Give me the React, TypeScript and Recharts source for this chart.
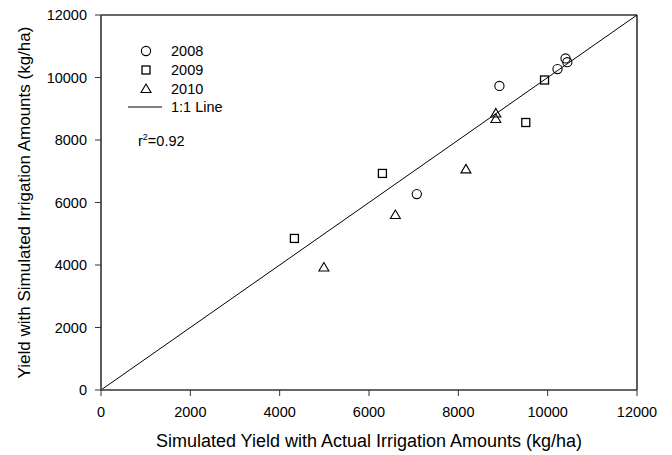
import React from 'react';
import {
  ScatterChart, Scatter, XAxis, YAxis, ReferenceLine, Label, Customized
} from 'recharts';

// measured (x) vs simulated (y) yield, kg/ha
const x2008 = [8920, 10220, 10400, 10440, 7070];
const y2008 = [9730, 10270, 10610, 10490, 6270];
const x2009 = [9930, 9510, 6300, 4330];
const y2009 = [9920, 8560, 6930, 4850];
const x2010 = [8840, 8840, 8170, 6590, 4990];
const y2010 = [8850, 8670, 7060, 5600, 3920];

const ticks = [0, 2000, 4000, 6000, 8000, 10000, 12000];
const legendLabels = ['2008', '2009', '2010', '1:1 Line'];
const r2Text = '0.92';

const FONT = 'Liberation Sans, Arial, sans-serif';

const toRows = (xs: number[], ys: number[]) => xs.map((x, i) => ({ x, y: ys[i] }));

const CircleShape = (props: any) => (
  <circle cx={props.cx} cy={props.cy} r={4.6} fill="none" stroke="#000" strokeWidth={1.1} />
);
const SquareShape = (props: any) => (
  <rect x={props.cx - 4} y={props.cy - 4} width={8} height={8} fill="none" stroke="#000" strokeWidth={1.3} />
);
const TriangleShape = (props: any) => {
  const { cx, cy } = props;
  return (
    <path d={`M${cx},${cy - 5}L${cx + 5},${cy + 3.5}L${cx - 5},${cy + 3.5}Z`} fill="none" stroke="#000" strokeWidth={1.1} />
  );
};

const LegendBox = () => {
  const textStyle = { fontFamily: FONT, fontSize: 14.5, fill: '#000' };
  return (
    <g>
      <CircleShape cx={146} cy={51} />
      <text x={171} y={56} style={textStyle}>{legendLabels[0]}</text>
      <SquareShape cx={146} cy={70} />
      <text x={171} y={75} style={textStyle}>{legendLabels[1]}</text>
      <TriangleShape cx={146} cy={89} />
      <text x={171} y={94} style={textStyle}>{legendLabels[2]}</text>
      <line x1={128} y1={107} x2={162} y2={107} stroke="#000" strokeWidth={1} />
      <text x={171} y={112} style={textStyle}>{legendLabels[3]}</text>
      <text x={138} y={146} style={textStyle}>
        r<tspan dy={-6} fontSize={9}>2</tspan><tspan dy={6}>={r2Text}</tspan>
      </text>
    </g>
  );
};

export default function App() {
  const tick = { fontFamily: FONT, fontSize: 14.5, fill: '#000' };
  return (
    <div style={{ position: 'absolute', left: 0, top: 0, background: '#fff' }}>
      <ScatterChart width={672} height={455} margin={{ top: 15, right: 35, bottom: 0, left: 0 }}>
        <XAxis
          type="number" dataKey="x" domain={[0, 12000]} ticks={ticks} interval={0}
          height={65} tickSize={6} tickMargin={11} tick={tick}
          axisLine={{ stroke: '#333', strokeWidth: 1.6 }} tickLine={{ stroke: '#333' }}
        >
          <Label value="Simulated Yield with Actual Irrigation Amounts (kg/ha)" position="insideBottom" offset={8}
            style={{ fontFamily: FONT, fontSize: 18, fill: '#000' }} />
        </XAxis>
        <YAxis
          type="number" dataKey="y" domain={[0, 12000]} ticks={ticks} interval={0}
          width={101} tickSize={6} tickMargin={8} tick={tick}
          axisLine={{ stroke: '#333', strokeWidth: 1.6 }} tickLine={{ stroke: '#333' }}
        >
          <Label value="Yield with Simulated Irrigation Amounts (kg/ha)" angle={-90} position="insideLeft" offset={24}
            style={{ fontFamily: FONT, fontSize: 17, fill: '#000', textAnchor: 'middle' }} />
        </YAxis>
        <ReferenceLine y={12000} stroke="#333" strokeWidth={1.6} />
        <ReferenceLine x={12000} stroke="#333" strokeWidth={1.6} />
        <ReferenceLine segment={[{ x: 0, y: 0 }, { x: 12000, y: 12000 }]} stroke="#000" strokeWidth={1} />
        <Scatter name="2008" data={toRows(x2008, y2008)} shape={<CircleShape />} isAnimationActive={false} />
        <Scatter name="2009" data={toRows(x2009, y2009)} shape={<SquareShape />} isAnimationActive={false} />
        <Scatter name="2010" data={toRows(x2010, y2010)} shape={<TriangleShape />} isAnimationActive={false} />
        <Customized component={LegendBox} />
      </ScatterChart>
    </div>
  );
}
